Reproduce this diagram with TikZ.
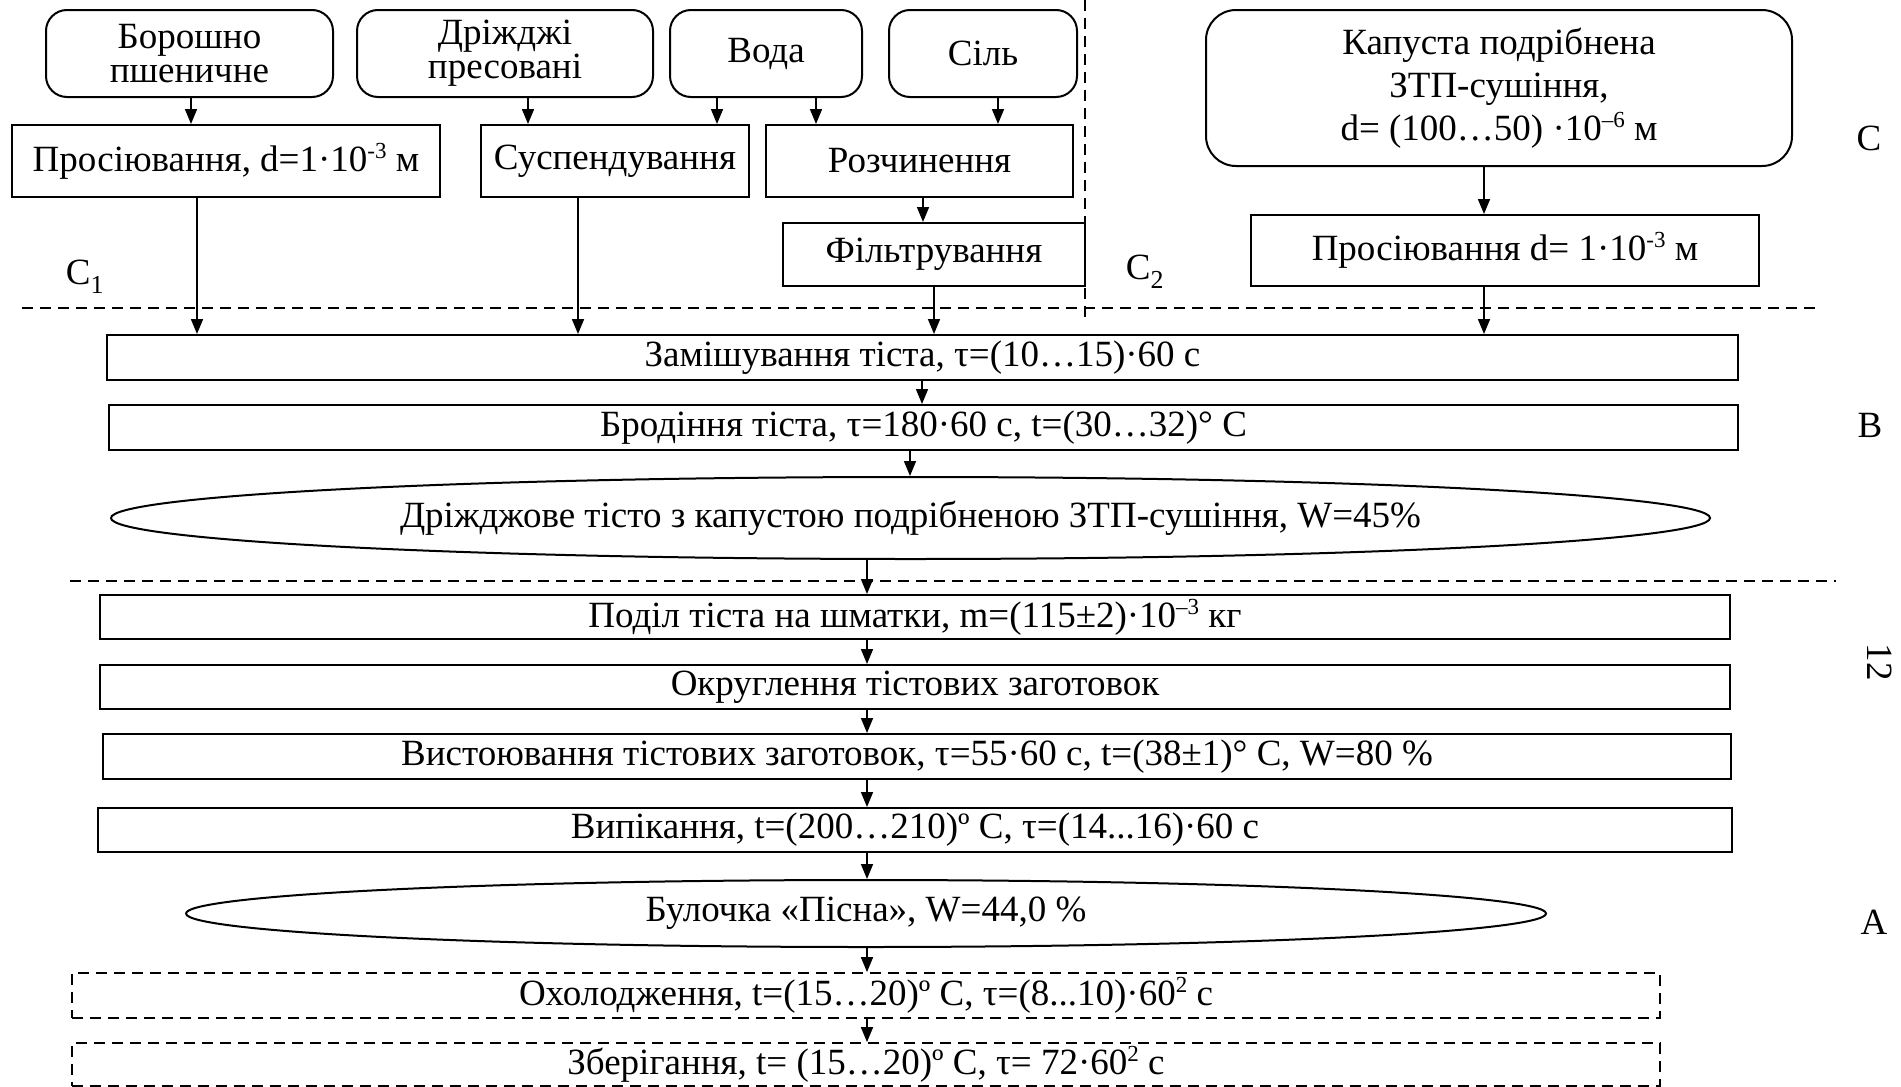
\documentclass[tikz,border=0pt]{standalone}
\usepackage{fontspec}
\setmainfont{Liberation Serif}
\usetikzlibrary{shapes.geometric}
\usetikzlibrary{arrows,arrows.meta}
\newcommand{\upidx}[1]{\raisebox{13pt}{\fontsize{23}{23}\selectfont #1}}

\begin{document}
\begin{tikzpicture}[x=1pt,y=1pt,font=\fontsize{37}{34}\selectfont,
	srcbox/.style={draw,line width=2pt,rounded corners=21pt,align=center,inner sep=0pt},
	procbox/.style={draw,line width=2pt,inner sep=0pt},
	prodbox/.style={draw,ellipse,line width=2pt,inner sep=0pt},
	optbox/.style={procbox,line width=1.8pt,dash pattern=on 11pt off 7pt},
	sepline/.style={line width=1.8pt,dash pattern=on 11pt off 7pt},
	flow/.style={line width=1.7pt,arrows={-Stealth[inset=0pt,length=15pt,width=12pt]}}]
		\useasboundingbox (0,0) rectangle (1901,-1087);
		%сировина
		\node (flour) [srcbox,minimum width=287pt,minimum height=87pt] at (189.5,-53.5) {Борошно\\пшеничне};
		\node (yeast) [srcbox,minimum width=296pt,minimum height=87pt] at (505,-53.5) {Дріжджі\\пресовані};
		\node (water) [srcbox,minimum width=192pt,minimum height=87pt] at (766,-53.5) {Вода};
		\node (salt) [srcbox,minimum width=188pt,minimum height=87pt] at (983,-53.5) {Сіль};
		\node (cab) [srcbox,rounded corners=30pt,minimum width=586pt,minimum height=156pt,font=\fontsize{37}{43}\selectfont] at (1499,-88) {Капуста подрібнена\\ЗТП-сушіння,\\d= (100…50) ·10\upidx{–6} м};
		
		%підготовка сировини
		\node (sift1) [procbox,minimum width=428pt,minimum height=72pt,below of=flour,node distance=107.5pt,xshift=36.5pt] {Просіювання, d=1·10\upidx{-3} м};
		\node (susp) [procbox,minimum width=268pt,minimum height=72pt,below of=yeast,node distance=107.5pt,xshift=110pt] {Суспендування};
		\node (dissolve) [procbox,minimum width=307pt,minimum height=72pt,below of=water,node distance=107.5pt,xshift=153.5pt] {Розчинення};
		\node (filter) [procbox,minimum width=302pt,minimum height=63pt,below of=dissolve,node distance=93.5pt,xshift=14.5pt] {Фільтрування};
		\node (sift2) [procbox,minimum width=508pt,minimum height=71pt,below of=cab,node distance=162.5pt,xshift=6pt] {Просіювання d= 1·10\upidx{-3} м};
		
		%основні стадії
		\node (mix) [procbox,minimum width=1631pt,minimum height=45pt] at (922.5,-357.5) {Замішування тіста, τ=(10…15)·60 с};
		\node (ferm) [procbox,minimum width=1629pt,minimum height=45pt,below of=mix,node distance=70pt,xshift=1pt] {Бродіння тіста, τ=180·60 с, t=(30…32)° C};
		\node (dough) [prodbox,minimum width=1599pt,minimum height=82pt,below of=ferm,node distance=90.5pt,xshift=-13pt] {Дріжджове тісто з капустою подрібненою ЗТП-сушіння, W=45\%};
		\node (divide) [procbox,minimum width=1630pt,minimum height=44pt,below of=dough,node distance=99pt,xshift=4.5pt] {Поділ тіста на шматки, m=(115±2)·10\upidx{–3} кг};
		\node (round) [procbox,minimum width=1630pt,minimum height=44pt,below of=divide,node distance=70pt] {Округлення тістових заготовок};
		\node (proof) [procbox,minimum width=1628pt,minimum height=45pt,below of=round,node distance=69.5pt,xshift=2pt] {Вистоювання тістових заготовок, τ=55·60 с, t=(38±1)° C, W=80 \%};
		\node (bake) [procbox,minimum width=1634pt,minimum height=44pt,below of=proof,node distance=73.5pt,xshift=-2pt] {Випікання, t=(200…210)º C, τ=(14...16)·60 с};
		\node (bun) [prodbox,minimum width=1360pt,minimum height=67pt,below of=bake,node distance=83.5pt,xshift=-49pt] {Булочка «Пісна», W=44,0 \%};
		\node (cool) [optbox,minimum width=1588pt,minimum height=45pt,below of=bun,node distance=82pt] {Охолодження, t=(15…20)º C, τ=(8...10)·60\upidx{2} с};
		\node (store) [optbox,minimum width=1588pt,minimum height=43pt,below of=cool,node distance=69pt] {Зберігання, t= (15…20)º C, τ= 72·60\upidx{2} с};
		
		%межі ділянок
		\draw[sepline] (22,-308) -- (1820,-308);
		\draw[sepline] (1085,0) -- (1085,-320);
		\draw[sepline] (70,-581) -- (1836,-581);
		\node (lblC) at (1869,-138) {C};
		\node (lblB) at (1870,-425) {B};
		\node (lbl12) [rotate=-90] at (1880,-662) {12};
		\node (lblA) at (1874,-922) {A};
		\node (lblC1) at (85,-277) {C\textsubscript{1}};
		\node (lblC2) at (1145,-272) {C\textsubscript{2}};
		
		%стрілки
		\draw[flow] ([xshift=1.5pt]flour.south) -- ([xshift=-35pt]sift1.north);
		\draw[flow] ([xshift=23pt]yeast.south) -- ([xshift=-87pt]susp.north);
		\draw[flow] ([xshift=-49pt]water.south) -- ([xshift=102pt]susp.north);
		\draw[flow] ([xshift=50pt]water.south) -- ([xshift=-103.5pt]dissolve.north);
		\draw[flow] ([xshift=15pt]salt.south) -- ([xshift=78.5pt]dissolve.north);
		\draw[flow] ([xshift=3.5pt]dissolve.south) -- ([xshift=-11pt]filter.north);
		\draw[flow] ([xshift=-15pt]cab.south) -- ([xshift=-21pt]sift2.north);
		\draw[flow] ([xshift=-29pt]sift1.south) -- ([xshift=-725.5pt]mix.north);
		\draw[flow] ([xshift=-37pt]susp.south) -- ([xshift=-344.5pt]mix.north);
		\draw[flow] (filter.south) -- ([xshift=11.5pt]mix.north);
		\draw[flow] ([xshift=-21pt]sift2.south) -- ([xshift=561.5pt]mix.north);
		\draw[flow] ([xshift=-0.5pt]mix.south) -- ([xshift=-1.5pt]ferm.north);
		\draw[flow] ([xshift=-13.5pt]ferm.south) -- ([xshift=-0.5pt]dough.north);
		\draw[flow] ([xshift=-43.5pt]dough.south) -- ([xshift=-48pt]divide.north);
		\draw[flow] ([xshift=-48pt]divide.south) -- ([xshift=-48pt]round.north);
		\draw[flow] ([xshift=-48pt]round.south) -- ([xshift=-50pt]proof.north);
		\draw[flow] ([xshift=-50pt]proof.south) -- ([xshift=-48pt]bake.north);
		\draw[flow] ([xshift=-48pt]bake.south) -- ([xshift=1pt]bun.north);
		\draw[flow] ([xshift=1pt]bun.south) -- ([xshift=1pt]cool.north);
		\draw[flow] ([xshift=1pt]cool.south) -- ([xshift=1pt]store.north);
	\end{tikzpicture}
\end{document}
